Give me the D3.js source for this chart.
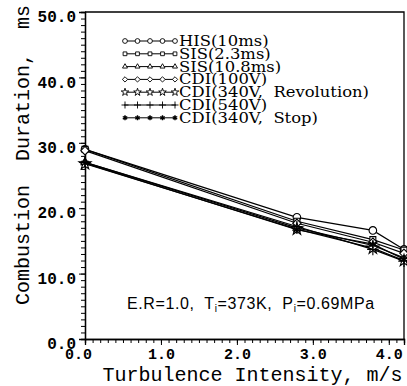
<!DOCTYPE html>
<html>
<head>
<meta charset="utf-8">
<script src="https://cdn.jsdelivr.net/npm/d3@7"></script>
<style>
  body { margin: 0; background: #fff; }
  svg { display: block; }
</style>
</head>
<body>
<div id="container"></div>
<script>
/* CONSTANTS AND GLOBALS */
const width = 407;
const height = 386;
const plotLeft = 85, plotRight = 404, plotTop = 12, plotBottom = 339;

/* DATA */
const xValues = [0, 2.79, 3.79, 4.2];
const seriesNames = ["HIS(10ms)", "SIS(2.3ms)", "SIS(10.8ms)", "CDI(100V)",
  "CDI(340V,  Revolution)", "CDI(540V)", "CDI(340V,  Stop)"];
const his10 = [29.0, 18.6, 16.6, 13.7];
const sis23 = [29.0, 18.0, 15.2, 13.6];
const sis108 = [27.0, 17.0, 14.3, 12.4];
const cdi100 = [28.8, 17.7, 14.8, 13.1];
const cdi340rev = [26.8, 16.8, 13.9, 12.0];
const cdi540 = [27.0, 17.2, 13.7, 11.9];
const cdi340stop = [26.9, 16.7, 14.5, 12.2];
const seriesValues = [his10, sis23, sis108, cdi100, cdi340rev, cdi540, cdi340stop];
const xTicks = [0, 1, 2, 3, 4];
const yTicks = [0, 10, 20, 30, 40, 50];

const symbols = [d3.symbolCircle, d3.symbolSquare2, d3.symbolTriangle2, d3.symbolDiamond2,
  d3.symbolStar, d3.symbolPlus, d3.symbolAsterisk];

/* SCALES */
const xScale = d3.scaleLinear().domain([0, 4.2]).range([plotLeft, plotRight]);
const yScale = d3.scaleLinear().domain([0, 50]).range([plotBottom, plotTop]);

const svg = d3.select("#container")
  .append("svg")
  .attr("width", width)
  .attr("height", height);

/* AXES */
const xMinor = d3.axisBottom(xScale).tickValues(d3.range(0, 42).map(i => i / 10))
  .tickSize(4).tickFormat("");
svg.append("g").attr("transform", `translate(0,${plotBottom})`).call(xMinor);

const xAxis = d3.axisBottom(xScale).tickValues(xTicks).tickSize(6)
  .tickFormat(d3.format(".1f")).tickPadding(3);
const gx = svg.append("g").attr("transform", `translate(0,${plotBottom})`).call(xAxis);

const yMinor = d3.axisLeft(yScale).tickValues(d3.range(0, 51)).tickSize(4).tickFormat("");
svg.append("g").attr("transform", `translate(${plotLeft},0)`).call(yMinor);

const yAxis = d3.axisLeft(yScale).tickValues(yTicks).tickSize(6)
  .tickFormat(d3.format(".1f")).tickPadding(3);
const gy = svg.append("g").attr("transform", `translate(${plotLeft},0)`).call(yAxis);

svg.selectAll(".domain").attr("stroke", "#000").attr("stroke-width", 1.3);
svg.selectAll(".tick line").attr("stroke", "#000");
svg.selectAll(".tick text")
  .attr("font-family", "'Liberation Mono', monospace")
  .attr("font-size", 16)
  .attr("font-weight", "bold")
  .attr("fill", "#000");
gx.selectAll(".tick text").attr("font-size", 15).attr("dx", (d, i) => i === 0 ? -7 : 0);
gy.selectAll(".tick text").attr("dy", "0.6em");

// frame top / right
svg.append("path")
  .attr("d", `M${plotLeft},${plotTop}H${plotRight}V${plotBottom}`)
  .attr("fill", "none").attr("stroke", "#000").attr("stroke-width", 1.3);

/* LINES */
const line = d3.line().x((d, i) => xScale(xValues[i])).y(d => yScale(d));
const fillFor = k => (k === 6 ? "#000" : "#fff");

seriesValues.forEach((vals, k) => {
  svg.append("path")
    .attr("d", line(vals))
    .attr("fill", "none")
    .attr("stroke", "#000")
    .attr("stroke-width", 1.2);
  svg.selectAll(null)
    .data(vals)
    .join("path")
    .attr("transform", (d, i) => `translate(${xScale(xValues[i])},${yScale(d)})`)
    .attr("d", d3.symbol(symbols[k], 45))
    .attr("fill", fillFor(k))
    .attr("stroke", "#000")
    .attr("stroke-width", k === 6 ? 1.6 : 1.1);
});

/* LEGEND */
const legend = svg.append("g");
seriesNames.forEach((name, k) => {
  const y = 41 + k * 12.8;
  legend.append("line")
    .attr("x1", 124).attr("x2", 176).attr("y1", y).attr("y2", y)
    .attr("stroke", "#000").attr("stroke-width", 1);
  legend.selectAll(null)
    .data(d3.range(5))
    .join("path")
    .attr("transform", i => `translate(${125 + i * 12.5},${y})`)
    .attr("d", d3.symbol(symbols[k], 18))
    .attr("fill", fillFor(k))
    .attr("stroke", "#000")
    .attr("stroke-width", k === 6 ? 1.4 : 0.9);
  legend.append("text")
    .attr("transform", `translate(179,${y + 5}) scale(1.13,1)`)
    .attr("font-family", "'DejaVu Serif', serif")
    .attr("font-size", 14.5)
    .style("white-space", "pre")
    .text(name);
});

/* ANNOTATION */
const note = svg.append("text")
  .attr("x", 127).attr("y", 309)
  .attr("font-family", "'Liberation Sans', sans-serif")
  .attr("font-size", 16)
  .attr("letter-spacing", 0.6)
  .style("white-space", "pre");
note.append("tspan").text("E.R=1.0,  T");
note.append("tspan").attr("font-size", 10).attr("dy", 3).text("i");
note.append("tspan").attr("dy", -3).text("=373K,  P");
note.append("tspan").attr("font-size", 10).attr("dy", 3).text("i");
note.append("tspan").attr("dy", -3).text("=0.69MPa");

/* AXIS TITLES */
svg.append("text")
  .attr("x", (plotLeft + plotRight) / 2 + 8).attr("y", 381)
  .attr("text-anchor", "middle")
  .attr("font-family", "'Liberation Mono', monospace")
  .attr("font-size", 20)
  .text("Turbulence Intensity, m/s");

svg.append("text")
  .attr("transform", "translate(29,155) rotate(-90)")
  .attr("text-anchor", "middle")
  .attr("font-family", "'Liberation Mono', monospace")
  .attr("font-size", 20)
  .style("white-space", "pre")
  .text("Combustion  Duration,  ms");
</script>
</body>
</html>
